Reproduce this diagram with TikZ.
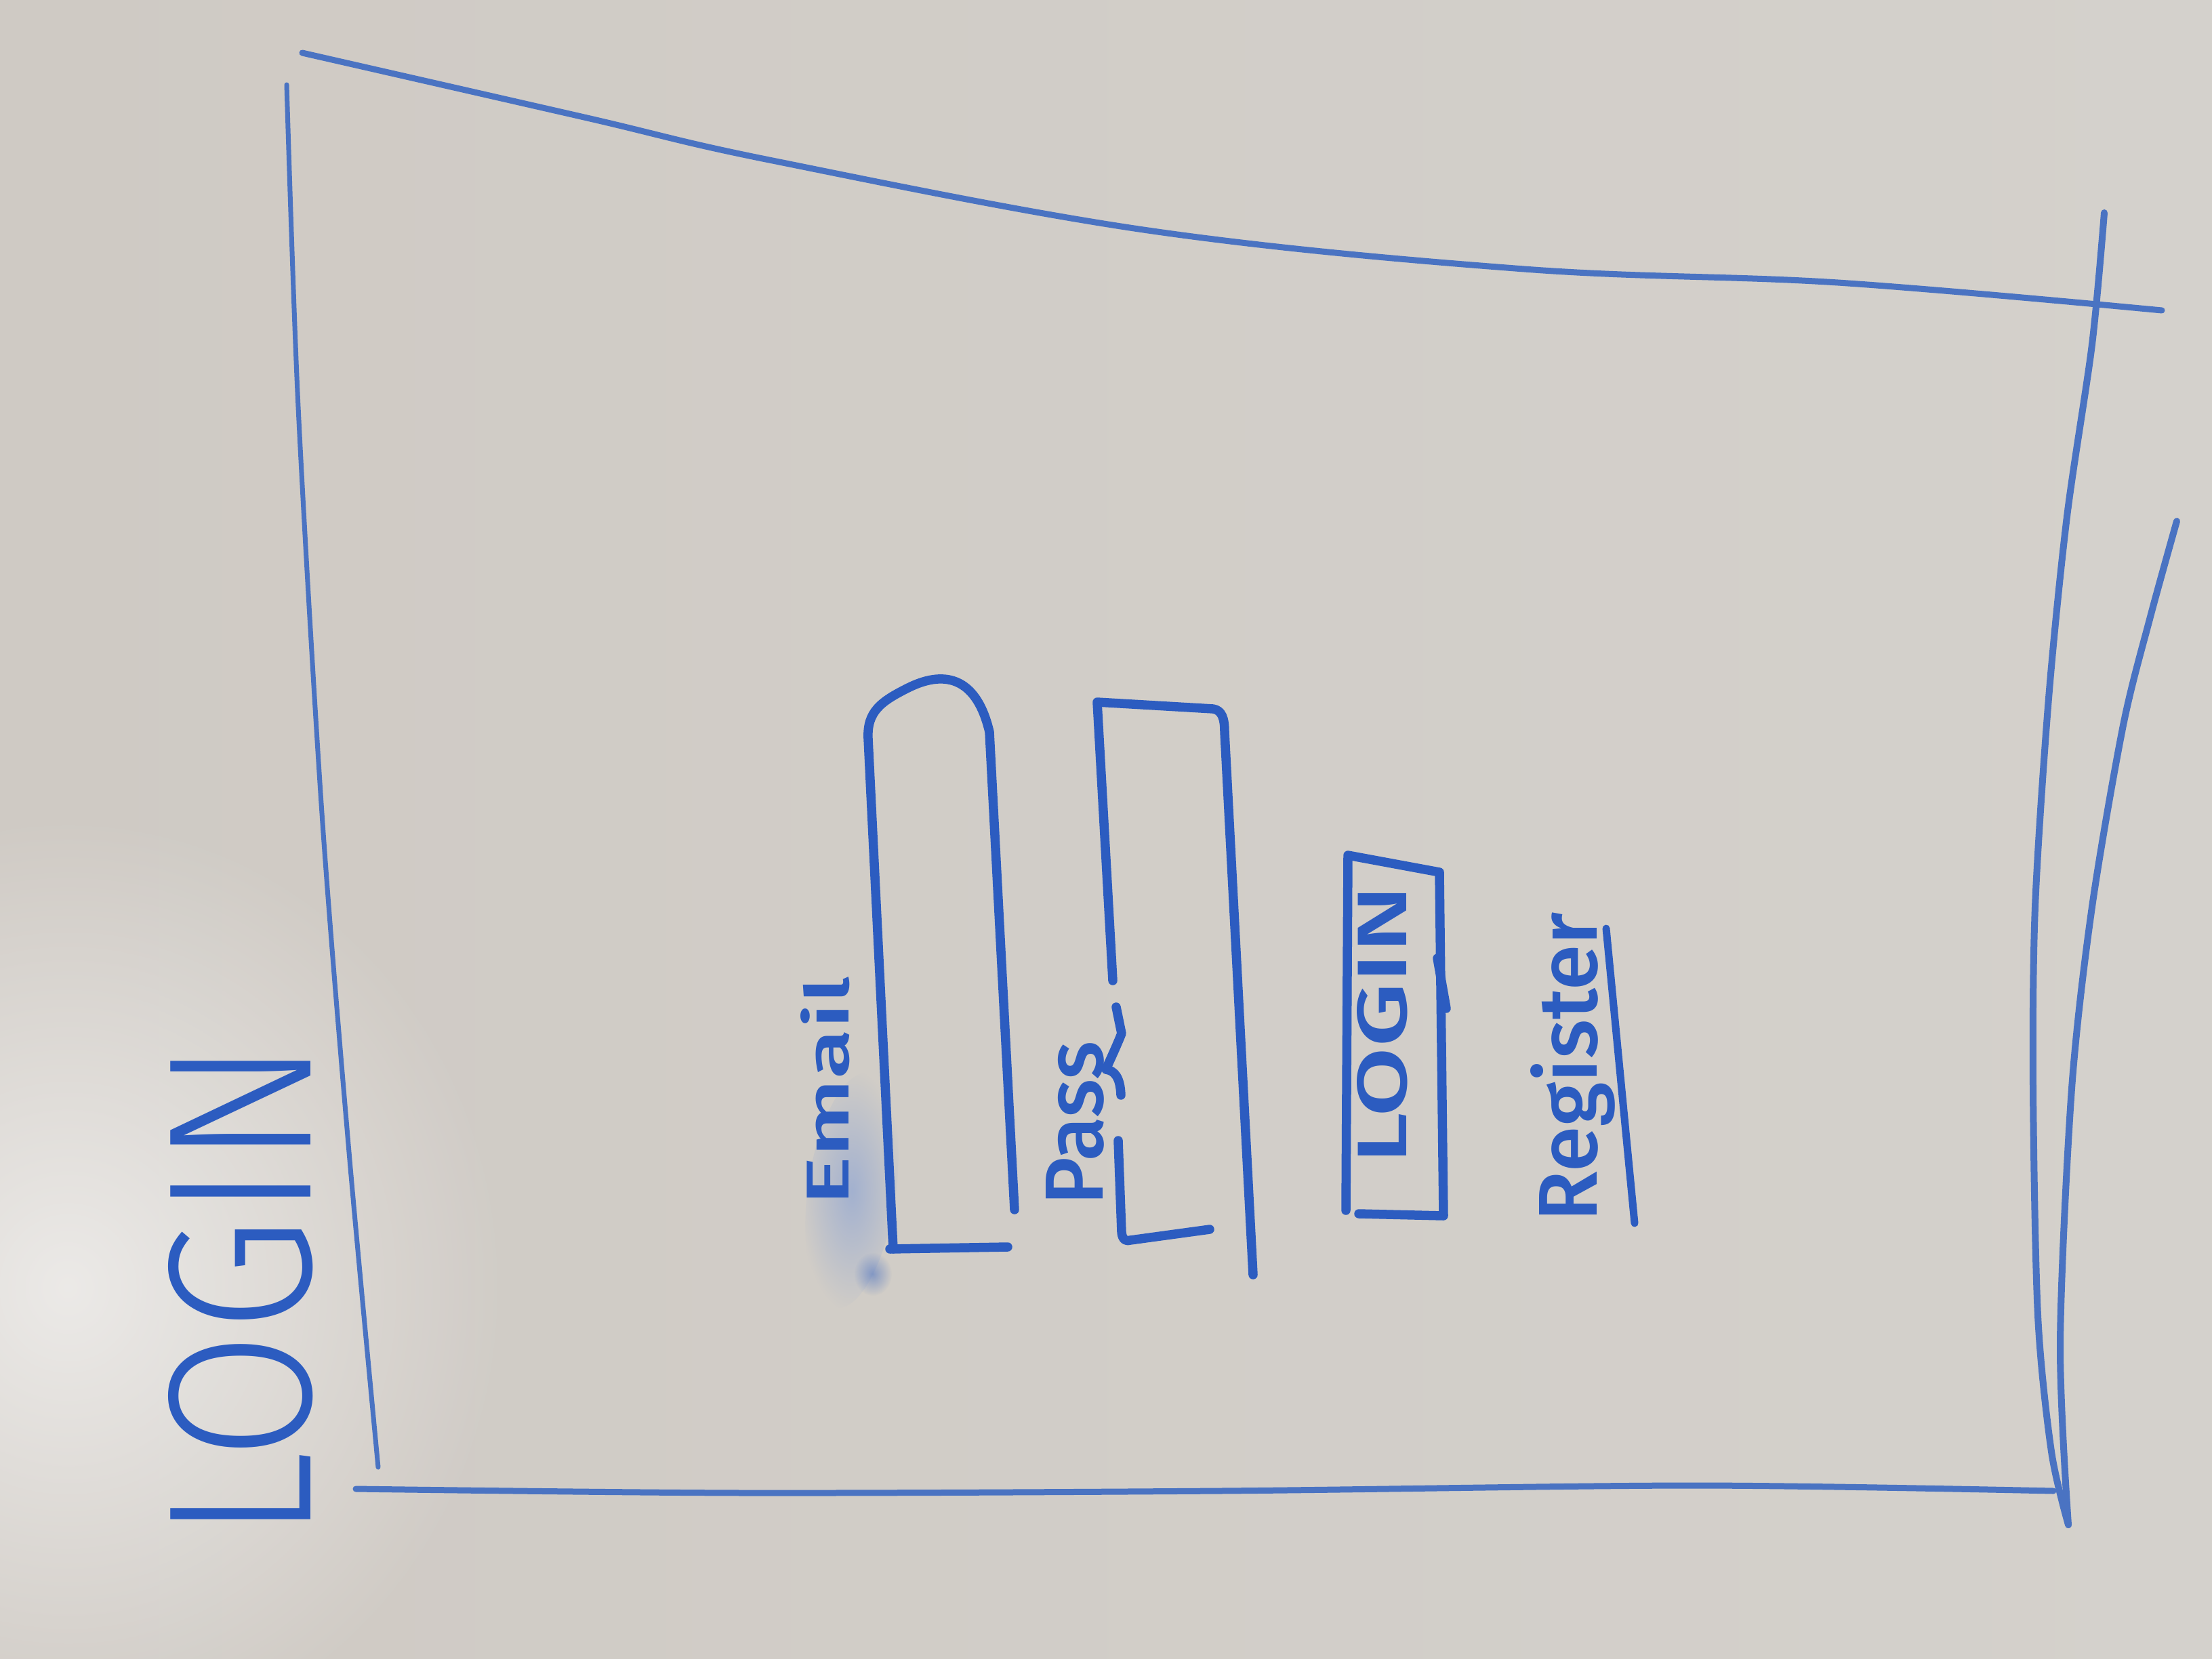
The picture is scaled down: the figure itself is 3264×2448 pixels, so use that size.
\documentclass[tikz,border=0pt]{standalone}
\usepackage{fontspec}
\usepackage{graphicx}
\newfontfamily\hand{Fira Sans Light}
\newfontfamily\handbold{Fira Sans Medium}
\usetikzlibrary{fadings}
\tikzfading[name=softspot, inner color=transparent!0, outer color=transparent!100]
\definecolor{boardL}{HTML}{CFCAC4}
\definecolor{boardM}{HTML}{DAD8D4}
\definecolor{boardR}{HTML}{D4D1CC}
\definecolor{ink}{HTML}{2C5CC0}
\definecolor{inkfaint}{HTML}{4A73C2}
\definecolor{smear}{HTML}{7D9AD6}
\tikzset{
  pen/.style={draw=ink, line width=1.35mm, line cap=round, line join=round},
  frameline/.style={draw=inkfaint, line width=0.9mm, line cap=round, line join=round},
  scrawl/.style={text=ink, inner sep=0pt, rotate=90, anchor=base west, font=\handbold},
}
\begin{document}
\begin{tikzpicture}[x=0.1mm,y=-0.1mm]
  % whiteboard surface
  \shade[left color=boardL, middle color=boardM, right color=boardR] (0,0) rectangle (3264,2448);
  \useasboundingbox (0,0) rectangle (3264,2448);
  \fill[white, opacity=0.6, path fading=softspot] (100,1900) ellipse (650 and 700);

  % screen frame
  \draw[frameline] plot[smooth, tension=0.6] coordinates
    {(446,78) (862,173) (1140,237) (1694,340) (2249,397) (2712,417) (3190,458)};
  \draw[frameline, line width=0.7mm] plot[smooth] coordinates
    {(423,125) (440,600) (475,1200) (515,1700) (558,2165)};
  \draw[frameline] plot[smooth] coordinates
    {(525,2197) (1100,2203) (1800,2200) (2500,2192) (3030,2200)};
  \draw[frameline, line width=1.0mm] plot[smooth] coordinates
    {(3105,314) (3087,508) (3050,762) (3023,1030) (3003,1338) (3000,1606) (3007,1941) (3027,2142) (3052,2250)};
  \draw[frameline, line width=1.0mm] plot[smooth] coordinates
    {(3052,2250) (3040,1981) (3057,1606) (3087,1338) (3133,1070) (3173,910) (3212,769)};

  % title
  \node[scrawl, font=\hand] (title) at (458,2273) {\resizebox{73.6mm}{21mm}{LOGIN}};

  % smudge around the email label
  \fill[smear, opacity=0.55, path fading=softspot, rotate around={-8:(1257,1757)}] (1257,1757) ellipse (65 and 175);
  \fill[ink, opacity=0.45, path fading=softspot] (1288,1880) ellipse (28 and 32);

  % email field
  \node[scrawl] (email) at (1252,1779) {\resizebox{33.8mm}{7.1mm}{Email}};
  \draw[pen] (1318,1843) -- (1281,1090)
    .. controls (1279,1050) and (1300,1035) .. (1340,1015)
    .. controls (1390,990) and (1440,995) .. (1460,1080) -- (1497,1785);
  \draw[pen] (1313,1843) -- (1487,1840);

  % password field
  \node[scrawl] (pass) at (1627,1779) {\resizebox{24.2mm}{8.4mm}{Pass}};
  \draw[pen] (1642,1447) -- (1619,1036) -- (1790,1046)
    .. controls (1803,1048) and (1807,1060) .. (1807,1080) -- (1849,1881);
  \draw[pen] (1647,1486) -- (1655,1525)
    .. controls (1645,1550) and (1635,1570) .. (1632,1578)
    .. controls (1645,1580) and (1653,1590) .. (1654,1616);
  \draw[pen] (1650,1683) -- (1655,1818)
    .. controls (1656,1830) and (1662,1832) .. (1668,1830) -- (1785,1814);

  % login button
  \draw[pen] (1986,1786) -- (1989,1262) -- (2124,1287) -- (2130,1794) -- (2005,1791);
  \draw[pen] (2121,1414) -- (2134,1488);
  \node[scrawl] (loginbtn) at (2075,1718) {\resizebox{41.1mm}{7.3mm}{LOGIN}};

  % register link
  \node[scrawl] (register) at (2356,1803) {\resizebox{45.6mm}{9.8mm}{Register}};
  \draw[pen, line width=1.1mm] (2370,1370) -- (2412,1805);
\end{tikzpicture}
\end{document}
